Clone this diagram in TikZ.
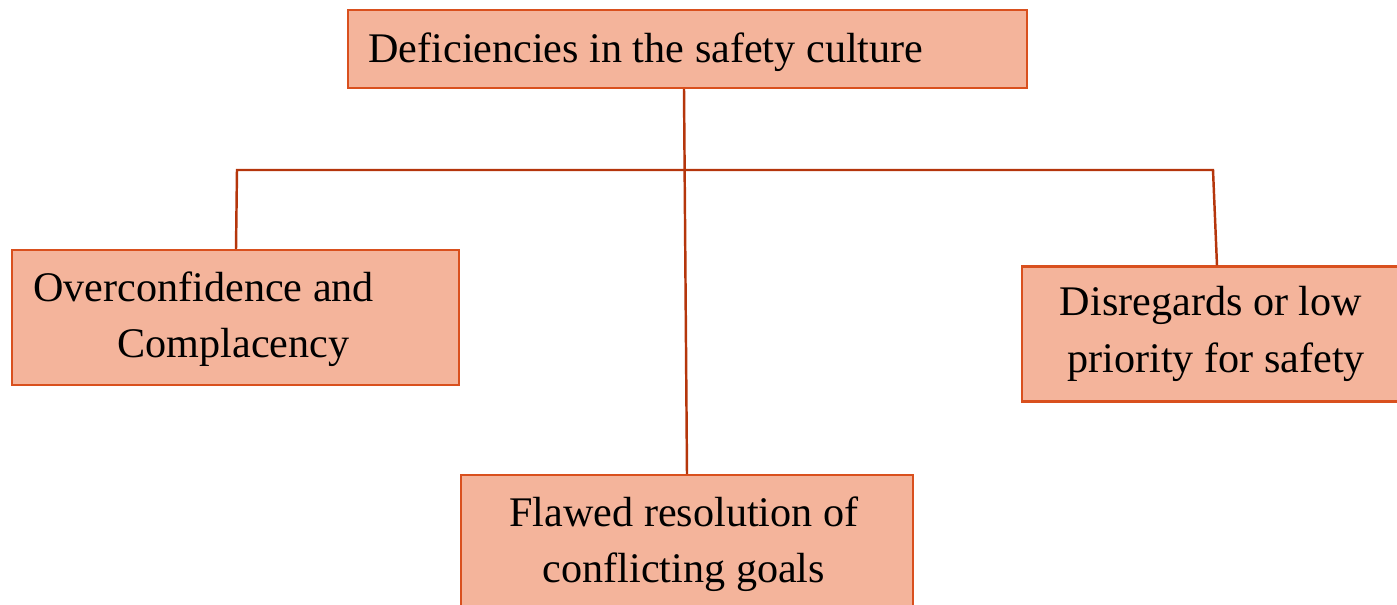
\documentclass[tikz,border=0pt]{standalone}
\usepackage{fontspec}
\setmainfont{Liberation Serif}
\definecolor{boxfill}{HTML}{F4B49B}
\definecolor{boxline}{HTML}{D9501E}
\definecolor{linkline}{HTML}{B5360C}
\begin{document}
\begin{tikzpicture}[x=0.02cm,y=-0.02cm,
  label font/.style={font=\fontsize{24}{32}\selectfont},
  box/.style={draw=boxline,fill=boxfill,line width=1.2pt,rectangle,inner sep=0pt,
    label font,align=center},
  link/.style={draw=linkline,line width=1.4pt}]
\useasboundingbox (0,0) rectangle (1397,605);
% boxes
\node[box,minimum width=679*0.02cm,minimum height=78*0.02cm] (top) at (687.5,49) {};
\node[label font,anchor=west,inner sep=0pt] (toptext) at (368,52)
  {Deficiencies in the safety culture};
\node[box,minimum width=447*0.02cm,minimum height=135*0.02cm] (left) at (235.5,317.5) {};
\node[label font,align=left,anchor=west,inner sep=0pt] (lefttext) at (33,319)
  {Overconfidence and\\ \hspace*{48pt}Complacency};
\node[box,minimum width=378*0.02cm,minimum height=135*0.02cm] (right) at (1211,334)
  {Disregards or low\\ \hspace*{6pt}priority for safety};
\node[box,minimum width=452*0.02cm,minimum height=150*0.02cm,anchor=north] (bottom) at (687,474)
  {};
\node[label font,align=center,inner sep=0pt] (bottomtext) at (684,544)
  {Flawed resolution of\\ conflicting goals};
% x positions of the vertical links
\coordinate (xtop) at (684,0);
\coordinate (xleft) at (236,0);
\coordinate (xright) at (1217,0);
\coordinate (xbottom) at (687,0);
% branch points on the horizontal bar
\coordinate (barL) at (237,170);
\coordinate (barR) at (1213,170);
\coordinate (topfoot) at (top.south -| xtop);
\coordinate (leftfoot) at (left.north -| xleft);
\coordinate (rightfoot) at (right.north -| xright);
\coordinate (bottomfoot) at (bottom.north -| xbottom);
% connectors
\draw[link] (topfoot) -- (bottomfoot);
\draw[link] (leftfoot) -- (barL) -- (barR) -- (rightfoot);
\end{tikzpicture}
\end{document}
